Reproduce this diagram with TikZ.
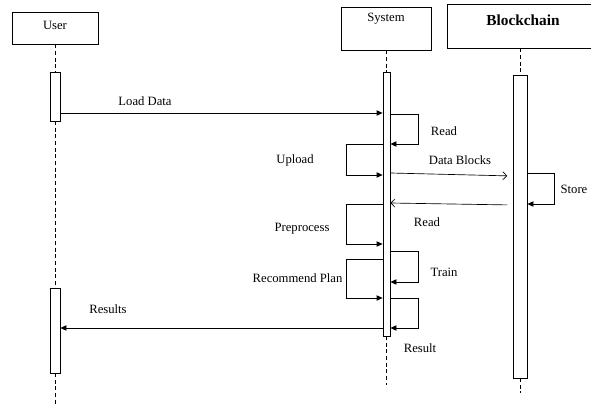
\documentclass[tikz,border=0pt]{standalone}
\usepackage{fontspec}
\setmainfont{Liberation Serif}
\usetikzlibrary{arrows.meta,positioning,fit,calc}
\tikzset{
  actor/.style={draw, line width=0.6pt, inner sep=0pt},
  actv/.style={draw, line width=0.6pt, fill=white, inner sep=0pt},
  lifeln/.style={line width=0.6pt, dash pattern=on 3pt off 2pt},
  msg/.style={-{Triangle[length=4.5pt,width=4pt]}, line width=0.6pt},
  reply/.style={-{Straight Barb[length=3pt,width=6pt]}, line width=0.5pt},
  lbl/.style={font=\fontsize{9.5}{11}\selectfont, inner sep=1pt},
}
\begin{document}
\begin{tikzpicture}[x=0.75pt, y=-0.75pt]
    \useasboundingbox (0,0) rectangle (591,406);
    \clip (0,0) rectangle (591,406);
    % ---------- participants ----------
    \node[actor, fit={(12,12) (98,44)}] (user) {};
    \node[lbl] (userT) at (55,25) {User};
    \node[actor, fit={(341,7) (431,50)}] (sys) {};
    \node[lbl] (sysT) at (386,19) {System};
    \node[actor, fit={(447,4) (599,48)}, font=\fontsize{11.5}{13}\selectfont\bfseries] (bc) {Blockchain};
    % ---------- lifelines ----------
    \draw[lifeln] (user) -- (55,72);
    \draw[lifeln] (55,121) -- (55,288);
    \draw[lifeln] (55,373) -- (55,406);
    \draw[lifeln] (sys.south -| 386.5,0) -- (386.5,72);
    \draw[lifeln] (386.5,336) -- (386.5,385);
    \draw[lifeln] (bc.south -| 520,0) -- (520,75);
    \draw[lifeln] (520,378) -- (520,393);
    % ---------- activations ----------
    \node[actv, fit={(50,72) (60,121)}] (actU1) {};
    \node[actv, fit={(50,288) (60,373)}] (actU2) {};
    \node[actv, fit={(383,72) (390,336)}] (actS) {};
    \node[actv, fit={(513,75) (527,378)}] (actB) {};
    % ---------- messages ----------
    \draw[msg] (actU1.east |- 0,113) -- (actS.west |- 0,113);
    \node[lbl] (tLoad) at (145,101) {Load Data};
    \draw[msg] (actS.east |- 0,114) -- ++(28,0) |- (actS.east |- 0,144);
    \node[lbl] (tRead) at (444,131) {Read};
    \draw[msg] (actS.west |- 0,144) -- ++(-36,0) |- (actS.west |- 0,175);
    \node[lbl] (tUpload) at (295,160) {Upload};
    \draw[reply, shorten >=4pt] (actS.east |- 0,173) -- (actB.west |- 0,176);
    \node[lbl] (tBlocks) at (460,160) {Data Blocks};
    \draw[msg] (actB.east |- 0,173) -- ++(27,0) |- (actB.east |- 0,204);
    \node[lbl, anchor=west] (tStore) at (559,189) {Store};
    \draw[reply, shorten <=4pt] (actB.west |- 0,205) -- (actS.east |- 0,203);
    \node[lbl] (tRead2) at (427,222) {Read};
    \draw[msg] (actS.west |- 0,204) -- ++(-36,0) |- (actS.west |- 0,244);
    \node[lbl] (tPrep) at (302,229) {Preprocess};
    \draw[msg] (actS.east |- 0,251) -- ++(28,0) |- (actS.east |- 0,282);
    \node[lbl] (tTrain) at (444,272) {Train};
    \draw[msg] (actS.west |- 0,259) -- ++(-36,0) |- (actS.west |- 0,298);
    \node[lbl, anchor=east] (tPlan) at (344,278) {Recommend Plan};
    \draw[msg] (actS.east |- 0,298) -- ++(28,0) |- (actS.east |- 0,328);
    \node[lbl] (tResult) at (420,348) {Result};
    \draw[msg] (actS.west |- 0,328) -- (actU2.east |- 0,328);
    \node[lbl] (tResults) at (108,309) {Results};
\end{tikzpicture}
\end{document}
